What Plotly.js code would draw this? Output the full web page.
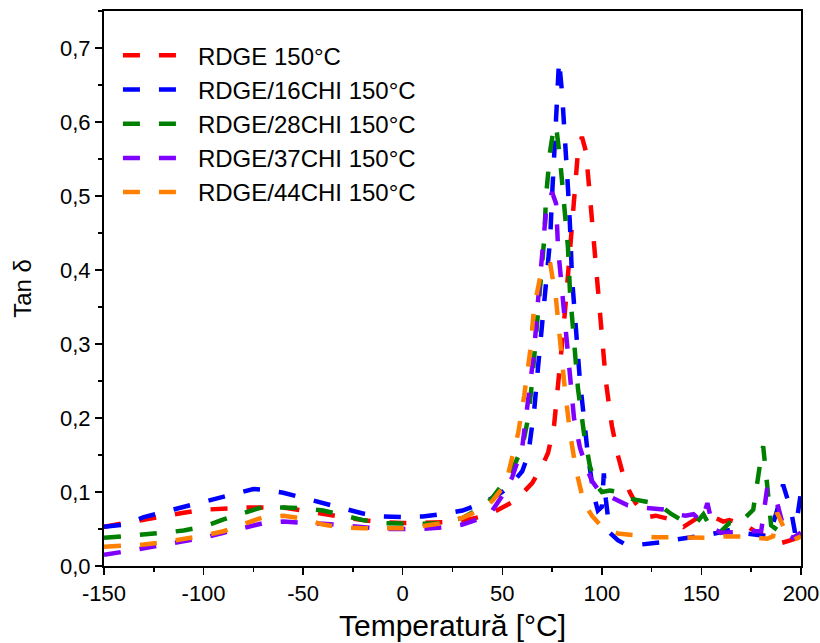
<!DOCTYPE html>
<html>
<head>
<meta charset="utf-8">
<script src="https://cdn.plot.ly/plotly-3.0.1.min.js"></script>
<style>html,body{margin:0;padding:0;background:#fff;}#chart{width:820px;height:643px;}</style>
</head>
<body>
<div id="chart"></div>
<script>
const seriesNames = ["RDGE 150°C", "RDGE/16CHI 150°C", "RDGE/28CHI 150°C", "RDGE/37CHI 150°C", "RDGE/44CHI 150°C"];
const seriesColors = ["#ff0000", "#0000ff", "#008000", "#8000ff", "#ff8000"];

const tempRDGE = [-150,-140,-130,-120,-110,-100,-90,-80,-70,-60,-50,-40,-30,-20,-10,0,10,20,30,40,45,50,55,60,65,70,73,76,78,80,82,84,86,88,90,92,94,96,98,100,102,105,108,111,114,117,120,123,127,131,136,141,145,148,152,157,161,164,168,171,175,180,185,190,195,200];
const tanRDGE = [0.053,0.058,0.063,0.068,0.072,0.076,0.078,0.079,0.079,0.079,0.075,0.070,0.066,0.062,0.059,0.058,0.058,0.059,0.061,0.067,0.072,0.079,0.086,0.098,0.112,0.135,0.153,0.19,0.24,0.30,0.36,0.43,0.50,0.56,0.58,0.56,0.50,0.44,0.37,0.31,0.25,0.19,0.15,0.12,0.10,0.085,0.075,0.066,0.068,0.065,0.062,0.053,0.060,0.065,0.066,0.065,0.060,0.062,0.059,0.058,0.050,0.042,0.038,0.031,0.035,0.040];

const temp16 = [-150,-140,-130,-120,-110,-100,-90,-80,-75,-70,-60,-50,-40,-30,-20,-10,0,10,20,30,40,45,50,55,60,63,66,68,70,72,74,75,76,77,78.5,80,81,82,83,84,85,87,89,91,93,96,98,100,101,102,104,108,112,116,120,125,130,135,140,145,150,155,160,165,170,175,180,184,188,191,195,197,200];
const tan16 = [0.053,0.056,0.066,0.073,0.080,0.087,0.094,0.100,0.104,0.103,0.099,0.092,0.085,0.078,0.071,0.067,0.066,0.067,0.070,0.075,0.085,0.092,0.100,0.112,0.128,0.15,0.21,0.27,0.33,0.38,0.44,0.50,0.56,0.62,0.683,0.64,0.60,0.57,0.51,0.46,0.39,0.32,0.25,0.20,0.15,0.095,0.075,0.08,0.125,0.09,0.045,0.035,0.029,0.028,0.029,0.031,0.032,0.035,0.037,0.038,0.040,0.043,0.046,0.049,0.045,0.043,0.042,0.040,0.075,0.11,0.075,0.045,0.10];

const temp28 = [-150,-140,-130,-120,-110,-100,-90,-80,-70,-60,-50,-40,-30,-20,-10,0,10,20,30,40,45,50,55,60,63,65,67,69,71,72,74,76,77,79,81,83,84,86,88,91,94,97,100,104,108,112,116,121,126,130,135,140,145,148,151,154,158,161,164,168,172,176,179,181,183,185,190,195,200];
const tan28 = [0.038,0.040,0.042,0.045,0.048,0.053,0.063,0.072,0.080,0.079,0.078,0.075,0.068,0.062,0.058,0.057,0.057,0.058,0.065,0.080,0.092,0.11,0.13,0.16,0.20,0.25,0.31,0.37,0.44,0.50,0.56,0.595,0.595,0.55,0.49,0.43,0.37,0.31,0.24,0.18,0.135,0.11,0.10,0.102,0.10,0.092,0.09,0.089,0.085,0.080,0.070,0.062,0.061,0.060,0.07,0.055,0.042,0.05,0.058,0.055,0.065,0.076,0.13,0.162,0.11,0.055,0.045,0.040,0.040];

const temp37 = [-150,-140,-130,-120,-110,-100,-90,-80,-70,-60,-50,-40,-30,-20,-10,0,10,20,30,40,45,50,55,60,63,66,68,70,72,75,77,78,80,82,84,86,89,92,95,99,103,108,113,117,122,127,132,137,142,146,150,153,156,160,165,170,175,180,183,186,188,192,196,200];
const tan37 = [0.015,0.019,0.024,0.029,0.033,0.038,0.045,0.052,0.058,0.060,0.059,0.057,0.055,0.052,0.050,0.050,0.050,0.052,0.056,0.065,0.075,0.095,0.12,0.16,0.23,0.29,0.36,0.42,0.48,0.505,0.49,0.43,0.37,0.32,0.26,0.20,0.16,0.135,0.115,0.10,0.095,0.088,0.082,0.080,0.079,0.078,0.076,0.070,0.068,0.070,0.060,0.085,0.050,0.045,0.045,0.046,0.047,0.047,0.105,0.095,0.085,0.045,0.038,0.045];

const temp44 = [-150,-140,-130,-120,-110,-100,-90,-80,-70,-60,-50,-40,-30,-20,-10,0,10,20,30,40,45,50,53,56,58,61,64,66,69,72,74,77,79,81,84,87,91,95,99,104,108,113,118,126,135,145,155,162,172,178,183,186,188,192,196,200];
const tan44 = [0.026,0.027,0.029,0.032,0.036,0.041,0.047,0.057,0.066,0.068,0.064,0.056,0.052,0.051,0.051,0.051,0.054,0.058,0.065,0.077,0.088,0.105,0.125,0.155,0.18,0.23,0.29,0.35,0.39,0.405,0.41,0.36,0.30,0.25,0.18,0.13,0.085,0.068,0.056,0.048,0.044,0.042,0.041,0.039,0.039,0.039,0.038,0.04,0.04,0.038,0.037,0.040,0.072,0.048,0.035,0.040];

const xTickVals = [-150,-100,-50,0,50,100,150,200];
const xTickText = ["-150","-100","-50","0","50","100","150","200"];
const yTickVals = [0,0.1,0.2,0.3,0.4,0.5,0.6,0.7];
const yTickText = ["0,0","0,1","0,2","0,3","0,4","0,5","0,6","0,7"];

const xs = [tempRDGE, temp16, temp28, temp37, temp44];
const ys = [tanRDGE, tan16, tan28, tan37, tan44];

const FONT = "Liberation Sans, Arial, sans-serif";
const traces = seriesNames.map((n, i) => ({
  type: 'scatter', mode: 'lines', name: n,
  x: xs[i], y: ys[i],
  legendgroup: 'g' + i,
  line: {color: seriesColors[i], width: 4.5, dash: '17px,19px'},
  hoverinfo: 'skip'
}));

const axisCommon = {
  showline: true, linecolor: '#000', linewidth: 2, mirror: true,
  ticks: 'outside', ticklen: 7, tickwidth: 1.5, tickcolor: '#000',
  showgrid: false, zeroline: false,
  tickfont: {family: FONT, size: 22, color: '#000'}
};

const layout = {
  width: 820, height: 643,
  margin: {l: 104, r: 19, t: 11, b: 77},
  paper_bgcolor: '#fff', plot_bgcolor: '#fff',
  showlegend: true,
  legend: {
    x: 0.02, y: 0.96, xanchor: 'left', yanchor: 'top',
    font: {family: FONT, size: 24, color: '#000'},
    bgcolor: 'rgba(0,0,0,0)', borderwidth: 0,
    traceorder: 'grouped', tracegroupgap: 0,
    itemwidth: 70
  },
  xaxis: Object.assign({}, axisCommon, {
    range: [-150, 200], tickmode: 'array', tickvals: xTickVals, ticktext: xTickText,
    minor: {dtick: 25, tick0: -150, ticks: 'outside', ticklen: 4, tickwidth: 1.5, tickcolor: '#000', showgrid: false},
    title: {text: 'Temperatură [°C]', font: {family: FONT, size: 30, color: '#000'}, standoff: 10}
  }),
  yaxis: Object.assign({}, axisCommon, {
    range: [0, 0.75], tickmode: 'array', tickvals: yTickVals, ticktext: yTickText,
    minor: {dtick: 0.05, tick0: 0, ticks: 'outside', ticklen: 4, tickwidth: 1.5, tickcolor: '#000', showgrid: false},
    title: {text: 'Tan δ', font: {family: FONT, size: 24, color: '#000'}, standoff: 22}
  })
};

Plotly.newPlot('chart', traces, layout, {displayModeBar: false, staticPlot: true});
</script>
</body>
</html>
